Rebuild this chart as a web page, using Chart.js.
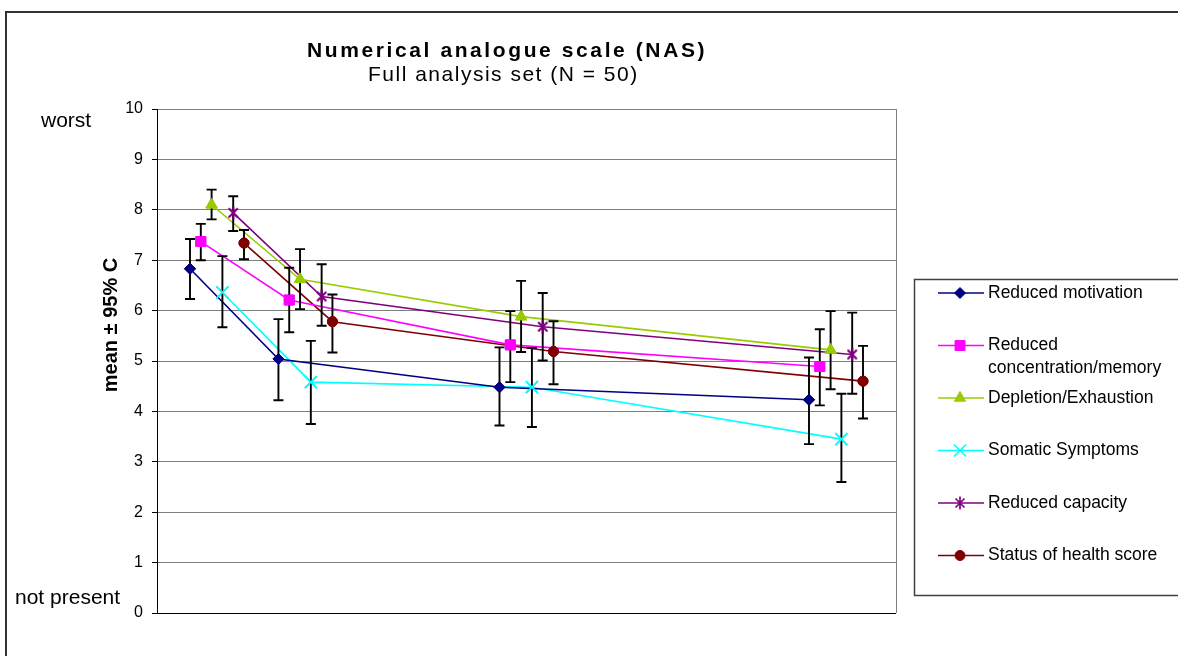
<!DOCTYPE html>
<html>
<head>
<meta charset="utf-8">
<script src="https://cdn.jsdelivr.net/npm/chart.js@4/dist/chart.umd.min.js"></script>
<style>
  html, body { margin: 0; background: #fff; }
  #wrap { position: relative; width: 1178px; height: 656px; }
</style>
</head>
<body>
<div id="wrap"><canvas id="nasChart"></canvas></div>
<script>
// visit time points (days), y ticks
const visitDays = [0, 14, 49, 98];
const yTicks = [0, 1, 2, 3, 4, 5, 6, 7, 8, 9, 10];

const seriesNames = ['Reduced motivation', 'Reduced concentration/memory', 'Depletion/Exhaustion',
  'Somatic Symptoms', 'Reduced capacity', 'Status of health score'];

// means and 95% CI per series
const motivationMean = [6.83, 5.04, 4.48, 4.23];
const motivationLow  = [6.23, 4.22, 3.72, 3.35];
const motivationHigh = [7.42, 5.83, 5.27, 5.07];

const concentrationMean = [7.37, 6.21, 5.32, 4.89];
const concentrationLow  = [7.00, 5.57, 4.58, 4.12];
const concentrationHigh = [7.72, 6.85, 5.99, 5.63];

const depletionMean = [8.10, 6.62, 5.88, 5.22];
const depletionLow  = [7.81, 6.03, 5.18, 4.44];
const depletionHigh = [8.40, 7.22, 6.59, 5.99];

const somaticMean = [6.36, 4.58, 4.48, 3.45];
const somaticLow  = [5.67, 3.75, 3.69, 2.60];
const somaticHigh = [7.08, 5.40, 5.26, 4.35];

const capacityMean = [7.94, 6.28, 5.68, 5.13];
const capacityLow  = [7.58, 5.70, 5.01, 4.35];
const capacityHigh = [8.27, 6.92, 6.35, 5.96];

const healthMean = [7.34, 5.78, 5.19, 4.60];
const healthLow  = [7.02, 5.17, 4.54, 3.86];
const healthHigh = [7.60, 6.32, 5.79, 5.30];

const FONT = '"Liberation Sans", Arial, sans-serif';

// asterisk marker for "Reduced capacity"
function asterisk(color) {
    const c = document.createElement('canvas');
    c.width = 14; c.height = 14;
    const g = c.getContext('2d');
    g.strokeStyle = color; g.lineWidth = 1.7;
    g.beginPath();
    g.moveTo(2.5, 2.5); g.lineTo(11.5, 11.5);
    g.moveTo(11.5, 2.5); g.lineTo(2.5, 11.5);
    g.moveTo(7, 0.5); g.lineTo(7, 13.5);
    g.stroke();
    return c;
}

const styles = [
    { color: '#000080', pointStyle: 'rectRot', radius: 5.5 },
    { color: '#FF00FF', pointStyle: 'rect', radius: 7 },
    { color: '#99CC00', pointStyle: 'triangle', radius: 6.5 },
    { color: '#00FFFF', pointStyle: 'crossRot', radius: 8.5 },
    { color: '#800080', pointStyle: asterisk('#800080'), radius: 6 },
    { color: '#800000', pointStyle: 'circle', radius: 5 }
];

const means = [motivationMean, concentrationMean, depletionMean, somaticMean, capacityMean, healthMean];
const lows = [motivationLow, concentrationLow, depletionLow, somaticLow, capacityLow, healthLow];
const highs = [motivationHigh, concentrationHigh, depletionHigh, somaticHigh, capacityHigh, healthHigh];

const dayShift = 1.71; // horizontal spread of the series around each visit

const datasets = seriesNames.map((name, s) => ({
    label: name,
    data: visitDays.map((d, i) => ({ x: d + (s - 2.5) * dayShift, y: means[s][i] })),
    borderColor: styles[s].color,
    backgroundColor: styles[s].color,
    pointBackgroundColor: styles[s].color,
    pointBorderColor: styles[s].color,
    pointStyle: styles[s].pointStyle,
    pointRadius: styles[s].radius,
    pointBorderWidth: s === 3 ? 1.7 : 1,
    borderWidth: 1.6,
    showLine: true,
    fill: false,
    tension: 0
}));

const errorBars = {
    id: 'errorBars',
    afterDatasetsDraw(chart) {
        const ctx = chart.ctx, y = chart.scales.y;
        ctx.save();
        ctx.strokeStyle = '#000';
        ctx.lineWidth = 1.9;
        chart.data.datasets.forEach((ds, s) => {
            chart.getDatasetMeta(s).data.forEach((pt, i) => {
                const top = y.getPixelForValue(highs[s][i]);
                const bot = y.getPixelForValue(lows[s][i]);
                ctx.beginPath();
                ctx.moveTo(pt.x, top); ctx.lineTo(pt.x, bot);
                ctx.moveTo(pt.x - 5, top); ctx.lineTo(pt.x + 5, top);
                ctx.moveTo(pt.x - 5, bot); ctx.lineTo(pt.x + 5, bot);
                ctx.stroke();
            });
        });
        ctx.restore();
        // markers back on top of the bars
        chart.data.datasets.forEach((ds, s) => {
            chart.getDatasetMeta(s).data.forEach(pt => pt.draw(ctx, chart.chartArea));
        });
    }
};

const decor = {
    id: 'decor',
    beforeDraw(chart) {
        const ctx = chart.ctx;
        ctx.save();
        ctx.fillStyle = '#fff';
        ctx.fillRect(0, 0, chart.width, chart.height);
        ctx.strokeStyle = '#333';
        ctx.lineWidth = 2;
        ctx.strokeRect(6, 12, chart.width + 10, chart.height + 10);
        ctx.restore();
    },
    afterDraw(chart) {
        const ctx = chart.ctx, a = chart.chartArea;
        ctx.save();
        // plot area right border
        ctx.strokeStyle = '#808080';
        ctx.lineWidth = 1;
        ctx.beginPath();
        ctx.moveTo(Math.round(a.right) + 0.5, a.top);
        ctx.lineTo(Math.round(a.right) + 0.5, a.bottom);
        ctx.stroke();

        ctx.fillStyle = '#000';
        ctx.textBaseline = 'alphabetic';
        ctx.textAlign = 'left';
        ctx.font = 'bold 21px ' + FONT;
        ctx.letterSpacing = '2.6px';
        ctx.fillText('Numerical analogue scale (NAS)', 307, 57);
        ctx.font = '21px ' + FONT;
        ctx.letterSpacing = '1.5px';
        ctx.fillText('Full analysis set (N = 50)', 368, 81);
        ctx.letterSpacing = '0px';

        ctx.font = '21px ' + FONT;
        ctx.fillText('worst', 41, 127);
        ctx.fillText('not present', 15, 604);

        ctx.save();
        ctx.translate(117, 325);
        ctx.rotate(-Math.PI / 2);
        ctx.textAlign = 'center';
        ctx.font = 'bold 20px ' + FONT;
        ctx.fillText('mean \u00b1 95% C', 0, 0);
        ctx.restore();

        // legend
        ctx.strokeStyle = '#404040';
        ctx.lineWidth = 1.5;
        ctx.strokeRect(914.5, 279.5, 300, 316);
        ctx.font = '17.5px ' + FONT;
        ctx.textBaseline = 'middle';
        const helpers = Chart.helpers;
        seriesNames.forEach((name, s) => {
            const yy = 293 + s * 52.5;
            const st = styles[s];
            ctx.strokeStyle = st.color;
            ctx.fillStyle = st.color;
            ctx.lineWidth = 1.6;
            ctx.beginPath();
            ctx.moveTo(938, yy); ctx.lineTo(984, yy);
            ctx.stroke();
            ctx.lineWidth = s === 3 ? 1.7 : 1;
            helpers.drawPoint(ctx, { pointStyle: st.pointStyle, radius: st.radius, borderWidth: ctx.lineWidth, rotation: 0 }, 960, yy);
            ctx.fillStyle = '#000';
            if (name === 'Reduced concentration/memory') {
                ctx.fillText('Reduced', 988, yy);
                ctx.fillText('concentration/memory', 988, yy + 23);
            } else {
                ctx.fillText(name, 988, yy);
            }
        });
        ctx.restore();
    }
};

new Chart(document.getElementById('nasChart').getContext('2d'), {
    type: 'scatter',
    data: { datasets: datasets },
    options: {
        responsive: true,
        maintainAspectRatio: false,
        animation: false,
        layout: { padding: { left: 0, top: 109, right: 282, bottom: 43 } },
        plugins: { legend: { display: false }, tooltip: { enabled: false } },
        scales: {
            x: { type: 'linear', display: false, min: -9.5, max: 107.5 },
            y: {
                min: 0, max: 10,
                afterFit(scale) { scale.width = 157; },
                afterBuildTicks(scale) { scale.ticks = yTicks.map(v => ({ value: v })); },
                border: { color: '#000', width: 1 },
                grid: {
                    color: ctx => ctx.tick && ctx.tick.value === 0 ? '#000' : '#808080',
                    tickColor: '#000',
                    tickLength: 5,
                    lineWidth: 1
                },
                ticks: {
                    color: '#000',
                    padding: 9,
                    font: { family: FONT, size: 16 }
                }
            }
        }
    },
    plugins: [errorBars, decor]
});
</script>
</body>
</html>
